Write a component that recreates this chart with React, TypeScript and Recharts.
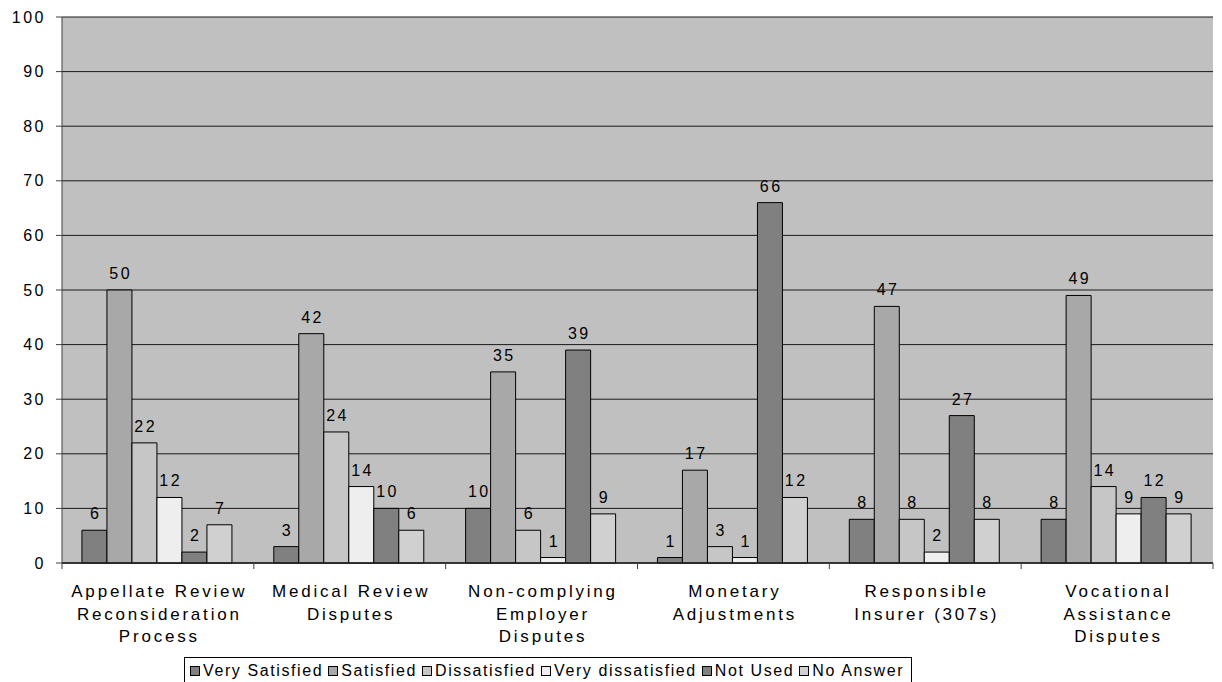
import React from "react";
import { BarChart, Bar, XAxis, YAxis, CartesianGrid, LabelList } from "recharts";

const categories = [
  "Appellate Review\nReconsideration\nProcess",
  "Medical Review\nDisputes",
  "Non-complying\nEmployer\nDisputes",
  "Monetary\nAdjustments",
  "Responsible\nInsurer (307s)",
  "Vocational\nAssistance\nDisputes",
];

const verySatisfied = [6, 3, 10, 1, 8, 8];
const satisfied = [50, 42, 35, 17, 47, 49];
const dissatisfied = [22, 24, 6, 3, 8, 14];
const veryDissatisfied = [12, 14, 1, 1, 2, 9];
const notUsed = [2, 10, 39, 66, 27, 12];
const noAnswer = [7, 6, 9, 12, 8, 9];

const yTicks = [0, 10, 20, 30, 40, 50, 60, 70, 80, 90, 100];

const series = [
  { key: "verySatisfied", name: "Very Satisfied", values: verySatisfied, color: "#808080" },
  { key: "satisfied", name: "Satisfied", values: satisfied, color: "#a8a8a8" },
  { key: "dissatisfied", name: "Dissatisfied", values: dissatisfied, color: "#c6c6c6" },
  { key: "veryDissatisfied", name: "Very dissatisfied", values: veryDissatisfied, color: "#eeeeee" },
  { key: "notUsed", name: "Not Used", values: notUsed, color: "#808080" },
  { key: "noAnswer", name: "No Answer", values: noAnswer, color: "#d0d0d0" },
];

const data = categories.map((label, i) => {
  const row: Record<string, string | number> = { label };
  series.forEach((s) => {
    row[s.key] = s.values[i];
  });
  return row;
});

const FONT = '"Liberation Sans", Arial, Helvetica, sans-serif';

const ValueLabel = (props: any) => {
  const { x, y, width, value } = props;
  const ls = 2.5;
  return (
    <text
      x={Number(x) + Number(width) / 2 + ls / 2}
      y={Number(y) - 11}
      textAnchor="middle"
      fontSize={16}
      fontFamily={FONT}
      letterSpacing={ls}
      fill="#000"
    >
      {value}
    </text>
  );
};

const CategoryTick = (props: any) => {
  const { x, y, payload, index, visibleTicksCount } = props;
  const half = payload && payload.offset ? payload.offset : 0;
  const lines = String(payload.value).split("\n");
  const ls = 2.8;
  const top = 563;
  return (
    <g>
      <line x1={x - half} x2={x - half} y1={top} y2={top + 6} stroke="#404040" strokeWidth={1} />
      {index === visibleTicksCount - 1 && (
        <line x1={x + half} x2={x + half} y1={top} y2={top + 6} stroke="#404040" strokeWidth={1} />
      )}
      {lines.map((line, i) => (
        <text
          key={i}
          x={x + ls / 2}
          y={y + 26 + i * 22.5}
          textAnchor="middle"
          fontSize={17}
          fontFamily={FONT}
          letterSpacing={ls}
          fill="#000"
        >
          {line}
        </text>
      ))}
    </g>
  );
};

const Legend = () => (
  <div
    style={{
      position: "absolute",
      left: 184,
      top: 657,
      height: 30,
      boxSizing: "border-box",
      border: "1px solid #000",
      background: "#fff",
      display: "flex",
      alignItems: "flex-start",
      paddingLeft: 5,
      paddingRight: 2,
      paddingTop: 3,
      fontFamily: FONT,
      fontSize: 16,
      letterSpacing: 1.6,
      whiteSpace: "nowrap",
      color: "#000",
    }}
  >
    {series.map((s) => (
      <div key={s.key} style={{ display: "flex", alignItems: "center", marginRight: 5 }}>
        <span
          style={{
            display: "inline-block",
            width: 10,
            height: 10,
            boxSizing: "border-box",
            border: "1px solid #000",
            background: s.color,
            marginRight: 3,
          }}
        />
        <span style={{ lineHeight: "20px" }}>{s.name}</span>
      </div>
    ))}
  </div>
);

export default function App() {
  return (
    <div
      style={{
        position: "absolute",
        left: 0,
        top: 0,
        width: 1222,
        height: 682,
        overflow: "hidden",
        background: "#fff",
        fontFamily: FONT,
      }}
    >
      <BarChart
        width={1222}
        height={682}
        data={data}
        margin={{ top: 17, right: 9, left: 0, bottom: 0 }}
        barCategoryGap="10.4%"
        barGap={0}
      >
        <CartesianGrid vertical={false} fill="#c0c0c0" stroke="#1a1a1a" strokeWidth={1} />
        <XAxis
          dataKey="label"
          height={119}
          interval={0}
          tickLine={false}
          axisLine={{ stroke: "#202020", strokeWidth: 1.5 }}
          tick={<CategoryTick />}
        />
        <YAxis
          width={62}
          domain={[0, 100]}
          ticks={yTicks}
          interval={0}
          tickSize={6}
          tickMargin={10}
          axisLine={{ stroke: "#404040" }}
          tickLine={{ stroke: "#404040" }}
          tick={{ fontSize: 16, fontFamily: FONT, fill: "#000", letterSpacing: 2.5 }}
        />
        <YAxis
          yAxisId="frame"
          orientation="right"
          width={0}
          domain={[0, 100]}
          tick={false}
          tickLine={false}
          axisLine={{ stroke: "#909090", strokeWidth: 1.5 }}
        />
        {series.map((s) => (
          <Bar
            key={s.key}
            dataKey={s.key}
            name={s.name}
            fill={s.color}
            stroke="#000"
            strokeWidth={1}
            isAnimationActive={false}
          >
            <LabelList dataKey={s.key} content={<ValueLabel />} />
          </Bar>
        ))}
      </BarChart>
      <Legend />
    </div>
  );
}
